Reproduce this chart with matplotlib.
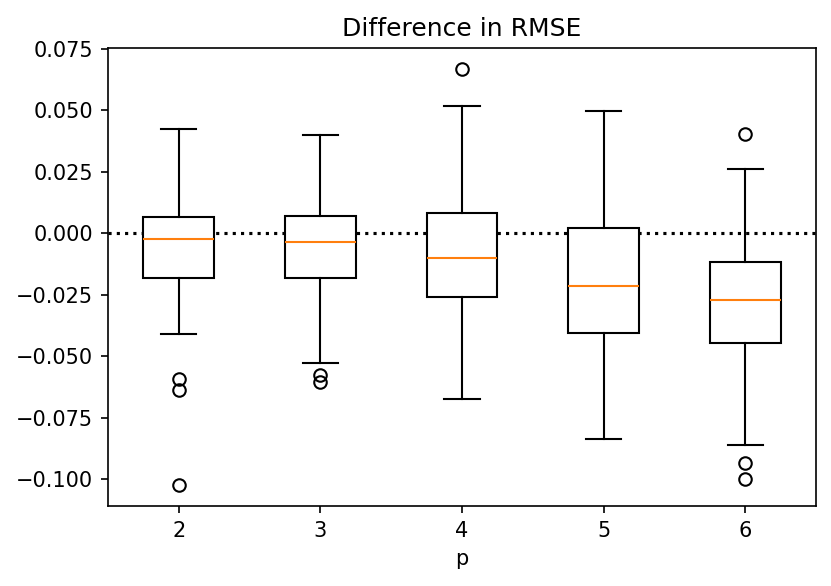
import matplotlib
matplotlib.use("Agg")
import matplotlib.pyplot as plt

# Data (per p)
p_labels = ["2", "3", "4", "5", "6"]
whisker_low = [-0.0411, -0.0527, -0.0674, -0.0838, -0.0862]
q1 = [-0.0181, -0.0180, -0.0258, -0.0405, -0.0445]
medians = [-0.0022, -0.0037, -0.0100, -0.0214, -0.0270]
q3 = [0.0065, 0.0072, 0.0082, 0.0022, -0.0118]
whisker_high = [0.0426, 0.0400, 0.0519, 0.0496, 0.0262]
fliers = [
    [-0.0591, -0.0638, -0.1024],
    [-0.0574, -0.0604],
    [0.0669],
    [],
    [0.0404, -0.0932, -0.1000],
]

stats = []
for i, lab in enumerate(p_labels):
    stats.append(dict(label=lab, whislo=whisker_low[i], q1=q1[i], med=medians[i],
                      q3=q3[i], whishi=whisker_high[i], fliers=fliers[i]))

fig = plt.figure(figsize=(831 / 150, 586 / 150), dpi=150)
ax = fig.add_axes([108 / 831, (586 - 506) / 586, 708 / 831, 458 / 586])

ax.axhline(0, color="k", linestyle=":")
ax.bxp(stats, patch_artist=True,
       boxprops=dict(facecolor="white", edgecolor="black"),
       medianprops=dict(color="C1"))

ax.set_title("Difference in RMSE")
ax.set_xlabel("p")

fig.savefig("out.png", dpi=150)
